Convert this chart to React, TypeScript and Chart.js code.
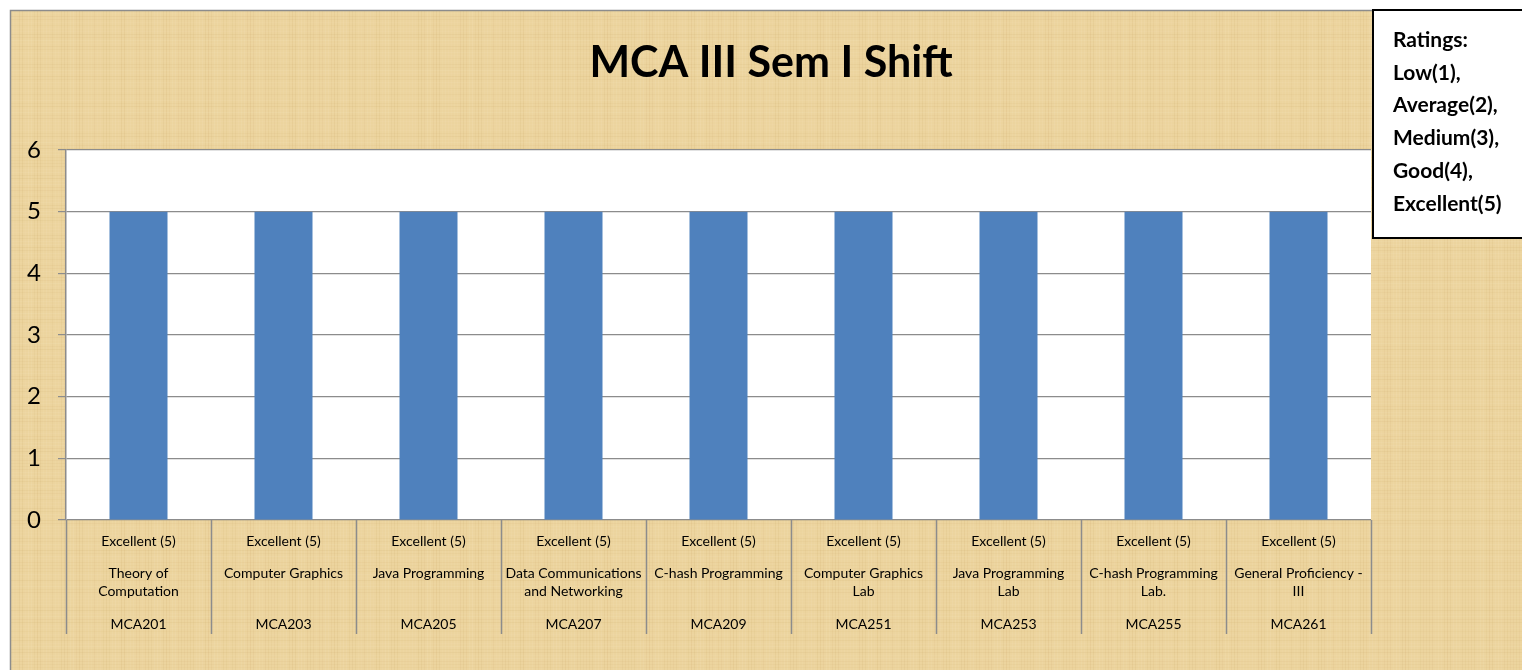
import React, { useEffect, useRef } from "react";
import { Chart, registerables } from "chart.js";

Chart.register(...registerables);

const TITLE = "MCA III Sem I Shift";
const codes = ["MCA201", "MCA203", "MCA205", "MCA207", "MCA209", "MCA251", "MCA253", "MCA255", "MCA261"];
const subjects = [
  ["Theory of", "Computation"],
  ["Computer Graphics"],
  ["Java Programming"],
  ["Data Communications", "and Networking"],
  ["C-hash Programming"],
  ["Computer Graphics", "Lab"],
  ["Java Programming", "Lab"],
  ["C-hash Programming", "Lab."],
  ["General Proficiency -", "III"],
];
const ratingLabels = ["Excellent (5)", "Excellent (5)", "Excellent (5)", "Excellent (5)", "Excellent (5)", "Excellent (5)", "Excellent (5)", "Excellent (5)", "Excellent (5)"];
const values = [5, 5, 5, 5, 5, 5, 5, 5, 5];
const legendLines = ["Ratings:", "Low(1),", "Average(2),", "Medium(3),", "Good(4),", "Excellent(5)"];

const FONT = "Lato, 'Open Sans', sans-serif";

const decor = {
  id: "decor",
  beforeDraw(chart: any) {
    const { ctx, width, height, chartArea } = chart;
    ctx.save();
    ctx.fillStyle = "#ffffff";
    ctx.fillRect(0, 0, width, height);
    // papyrus-like texture
    ctx.fillStyle = "#ecd49e";
    ctx.fillRect(2, 2, width, height);
    for (let x = 2; x < width; x += 3) {
      const a = 0.06 + 0.05 * Math.sin(x * 0.37) * Math.sin(x * 0.071);
      ctx.fillStyle = a > 0.06 ? `rgba(255,245,215,${a})` : `rgba(190,150,80,${0.12 - a})`;
      ctx.fillRect(x, 2, 1, height);
    }
    for (let y = 2; y < height; y += 3) {
      const a = 0.05 + 0.05 * Math.sin(y * 0.53) * Math.cos(y * 0.093);
      ctx.fillStyle = a > 0.05 ? `rgba(255,245,215,${a})` : `rgba(190,150,80,${0.1 - a})`;
      ctx.fillRect(2, y, width, 1);
    }
    ctx.strokeStyle = "#8c8c8c";
    ctx.lineWidth = 1.5;
    ctx.strokeRect(2.5, 2.5, width + 10, height + 10);
    // plot area
    ctx.fillStyle = "#ffffff";
    ctx.fillRect(chartArea.left, chartArea.top, chartArea.right - chartArea.left, chartArea.bottom - chartArea.top);
    ctx.restore();
  },
  afterDraw(chart: any) {
    const { ctx, width, chartArea } = chart;
    const xs = chart.scales.x;
    ctx.save();
    // title
    ctx.fillStyle = "#000";
    ctx.font = `bold 43px ${FONT}`;
    ctx.textAlign = "center";
    ctx.textBaseline = "middle";
    ctx.fillText(TITLE, 763, 55);
    // category separators
    const n = codes.length;
    const step = (chartArea.right - chartArea.left) / n;
    ctx.strokeStyle = "#8c8c8c";
    ctx.lineWidth = 1.5;
    for (let i = 0; i <= n; i++) {
      const x = Math.round(chartArea.left + i * step) + 0.5;
      ctx.beginPath();
      ctx.moveTo(x, chartArea.bottom);
      ctx.lineTo(x, chartArea.bottom + 114);
      ctx.stroke();
    }
    // category labels
    ctx.fillStyle = "#000";
    ctx.font = `14px ${FONT}`;
    for (let i = 0; i < n; i++) {
      const cx = xs.getPixelForValue(i);
      ctx.fillText(ratingLabels[i], cx, chartArea.bottom + 21);
      subjects[i].forEach((s, j) => ctx.fillText(s, cx, chartArea.bottom + 53 + j * 18));
      ctx.fillText(codes[i], cx, chartArea.bottom + 104);
    }
    // legend box
    ctx.fillStyle = "#ffffff";
    ctx.fillRect(1365, 2, width, 228);
    ctx.strokeStyle = "#000";
    ctx.lineWidth = 2;
    ctx.strokeRect(1365, 2, width, 228);
    ctx.fillStyle = "#000";
    ctx.font = `bold 21px ${FONT}`;
    ctx.textAlign = "left";
    legendLines.forEach((l, i) => ctx.fillText(l, 1385, 32 + i * 32.8));
    ctx.restore();
  },
};

export default function App() {
  const ref = useRef<HTMLCanvasElement>(null);
  useEffect(() => {
    if (!ref.current) return;
    const chart = new Chart(ref.current, {
      type: "bar",
      data: {
        labels: codes,
        datasets: [
          {
            data: values,
            backgroundColor: "#4f81bd",
            barPercentage: 0.4,
            categoryPercentage: 1,
          },
        ],
      },
      options: {
        animation: false,
        responsive: false,
        layout: { padding: { top: 142, right: 151, bottom: 150, left: 0 } },
        plugins: { legend: { display: false }, title: { display: false }, tooltip: { enabled: false } },
        scales: {
          x: { display: false },
          y: {
            min: 0,
            max: 6,
            afterFit: (s: any) => {
              s.width = 58;
            },
            ticks: { stepSize: 1, color: "#000", padding: 17, font: { family: FONT, size: 24 } },
            grid: { color: "#8c8c8c", lineWidth: 1.2, tickLength: 8 },
            border: { display: true, color: "#8c8c8c", width: 1.5 },
          },
        },
      },
      plugins: [decor],
    });
    return () => chart.destroy();
  }, []);
  return (
    <canvas
      ref={ref}
      width={1514}
      height={662}
      style={{ display: "block", position: "absolute", left: 8, top: 8 }}
    />
  );
}
